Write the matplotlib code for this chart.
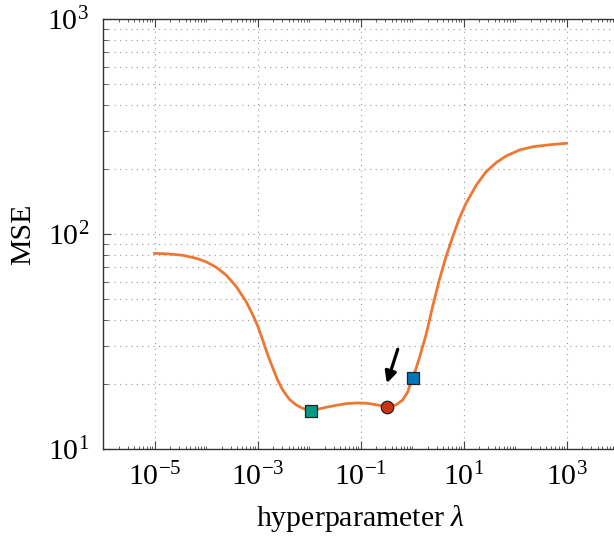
import numpy as np
import matplotlib
matplotlib.use("Agg")
import matplotlib.pyplot as plt
from matplotlib.ticker import LogLocator, NullFormatter, FixedLocator

# curve, as log10 values
log_lam = [-5.00, -4.71, -4.45, -4.19, -4.00, -3.80, -3.61, -3.41, -3.22, -3.09,
           -2.99, -2.90, -2.80, -2.70, -2.61, -2.51, -2.38, -2.25, -2.12, -2.02,
           -1.96, -1.67, -1.47, -1.28, -1.08, -0.89, -0.70, -0.49, -0.31, -0.18,
           -0.08, -0.05, 0.02, 0.15, 0.28, 0.40, 0.53, 0.66, 0.79, 0.92, 1.05,
           1.25, 1.44, 1.64, 1.83, 2.09, 2.35, 2.67, 3.00]
log_mse = [1.910, 1.907, 1.901, 1.887, 1.871, 1.845, 1.809, 1.755, 1.685, 1.623,
           1.569, 1.507, 1.437, 1.375, 1.321, 1.274, 1.231, 1.205, 1.189, 1.181,
           1.178, 1.194, 1.203, 1.211, 1.214, 1.213, 1.206, 1.197, 1.205, 1.228,
           1.267, 1.290, 1.330, 1.429, 1.538, 1.662, 1.786, 1.894, 1.987, 2.073,
           2.143, 2.228, 2.290, 2.333, 2.363, 2.391, 2.406, 2.415, 2.422]

# highlighted points (log10 lambda, log10 MSE)
teal_pt = (-1.96, 1.178)
red_pt = (-0.49, 1.197)
blue_pt = (0.02, 1.330)
arrow_tail = (-0.276, 1.464)
arrow_tip = (-0.489, 1.306)

lam = 10 ** np.array(log_lam)
mse = 10 ** np.array(log_mse)

plt.rcParams['font.family'] = 'Liberation Serif'
plt.rcParams['mathtext.fontset'] = 'custom'
plt.rcParams['mathtext.rm'] = 'Liberation Serif'
plt.rcParams['mathtext.it'] = 'Liberation Serif:italic'
plt.rcParams['font.size'] = 21.5

fig = plt.figure(figsize=(6.14, 5.36), dpi=100)
ax = fig.add_axes([103 / 614, 87 / 536, 515 / 614, 430 / 536])

ax.plot(lam, mse, color='#EE7733', lw=2.0, zorder=3, solid_joinstyle='round')
for pt, m, c in [(teal_pt, 's', '#009988'), (red_pt, 'o', '#CC3311'), (blue_pt, 's', '#0077BB')]:
    ax.plot(10 ** pt[0], 10 ** pt[1], m, color=c, mec='#222222', mew=0.9,
            ms=9 if m == 'o' else 8.5, zorder=4)
ax.annotate('', xy=(10 ** arrow_tip[0], 10 ** arrow_tip[1]),
            xytext=(10 ** arrow_tail[0], 10 ** arrow_tail[1]),
            arrowprops=dict(arrowstyle='-|>', color='black', lw=2.3,
                            mutation_scale=17, shrinkA=0, shrinkB=0))

ax.set_xscale('log')
ax.set_yscale('log')
ax.set_xlim(1e-6, 1e4)
ax.set_ylim(10, 1000)

ax.xaxis.set_major_locator(FixedLocator([1e-5, 1e-3, 1e-1, 1e1, 1e3]))
ax.xaxis.set_minor_locator(LogLocator(base=10, subs=np.arange(1, 10), numticks=50))
ax.xaxis.set_minor_formatter(NullFormatter())
ax.yaxis.set_minor_locator(LogLocator(base=10, subs=np.arange(2, 10), numticks=50))
ax.yaxis.set_minor_formatter(NullFormatter())

ax.tick_params(which='both', direction='in', top=True, right=False, colors='#444444',
               labelcolor='black')
ax.tick_params(which='major', length=6, width=0.8, pad=10)
ax.tick_params(which='minor', length=3.5, width=0.6)
ax.tick_params(axis='x', which='minor', length=2.5)

ax.grid(True, which='major', axis='x', linestyle=(0, (1, 4)), color='#999999', lw=0.8)
ax.grid(True, which='both', axis='y', linestyle=(0, (1, 4)), color='#999999', lw=0.8)

for s in ax.spines.values():
    s.set_color('#333333')
    s.set_linewidth(1.0)
ax.spines['right'].set_visible(False)

ax.set_xlabel(r'hyperparameter $\mathit{\lambda}$', labelpad=8)
ax.set_ylabel('MSE', labelpad=8)

plt.savefig('out.png', dpi=100)
